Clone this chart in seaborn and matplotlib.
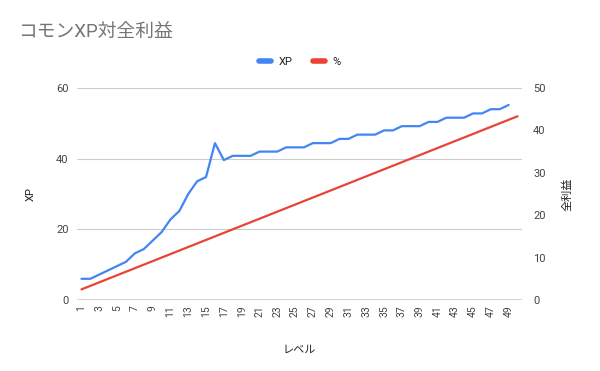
import numpy as np
import pandas as pd
import matplotlib
matplotlib.use("Agg")
import matplotlib.pyplot as plt
import seaborn as sns
from matplotlib.lines import Line2D

levels = list(range(1, 51))
xp = [6.0, 6.0, 7.2, 8.4, 9.6, 10.8, 13.2, 14.4, 16.8, 19.2,
      22.8, 25.2, 30.0, 33.6, 34.8, 44.4, 39.6, 40.8, 40.8, 40.8,
      42.0, 42.0, 42.0, 43.2, 43.2, 43.2, 44.4, 44.4, 44.4, 45.6,
      45.6, 46.8, 46.8, 46.8, 48.0, 48.0, 49.2, 49.2, 49.2, 50.4,
      50.4, 51.6, 51.6, 51.6, 52.8, 52.8, 54.0, 54.0, 55.2, np.nan]
pct = [2.500, 3.333, 4.167, 5.000, 5.833, 6.667, 7.500, 8.333, 9.167, 10.000,
       10.833, 11.667, 12.500, 13.333, 14.167, 15.000, 15.833, 16.667, 17.500, 18.333,
       19.167, 20.000, 20.833, 21.667, 22.500, 23.333, 24.167, 25.000, 25.833, 26.667,
       27.500, 28.333, 29.167, 30.000, 30.833, 31.667, 32.500, 33.333, 34.167, 35.000,
       35.833, 36.667, 37.500, 38.333, 39.167, 40.000, 40.833, 41.667, 42.500, 43.333]
xtick_labels = [str(v) for v in range(1, 50, 2)]

df = pd.DataFrame({"level": levels, "XP": xp, "pct": pct})

sns.set_theme(style="white")
plt.rcParams["font.family"] = ["Roboto", "Noto Sans CJK JP", "DejaVu Sans"]

BLUE = "#4285F4"
RED = "#EA4335"
TICK = "#444444"

fig = plt.figure(figsize=(6.0, 3.71), dpi=100)
ax = fig.add_axes([77/600, 1 - 300/371, (522 - 77)/600, (300 - 88)/371])
ax2 = ax.twinx()

sns.lineplot(data=df, x="level", y="XP", ax=ax, color=BLUE, linewidth=1.6)
sns.lineplot(data=df, x="level", y="pct", ax=ax2, color=RED, linewidth=1.6)

ax.set_xlim(0.5, 50.5)
ax.set_ylim(0, 60)
ax2.set_ylim(0, 50)
ax.set_yticks([0, 20, 40, 60])
ax2.set_yticks([0, 10, 20, 30, 40, 50])
ax.set_xticks(list(range(1, 50, 2)))
ax.set_xticklabels(xtick_labels, rotation=90, fontsize=7.5, color=TICK)
ax.tick_params(axis="y", labelsize=8, colors=TICK, length=0, pad=6)
ax2.tick_params(axis="y", labelsize=8, colors=TICK, length=0, pad=8)
ax.tick_params(axis="x", length=0, pad=4)

ax.grid(axis="y", color="#cccccc", linewidth=0.8)
ax.set_axisbelow(True)
for a in (ax, ax2):
    for s in ("top", "left", "right", "bottom"):
        a.spines[s].set_visible(False)
ax.axhline(0, color="#333333", linewidth=1.0, zorder=3)

ax.set_xlabel("レベル", fontsize=8, color="#222222", labelpad=20)
ax.set_ylabel("XP", fontsize=8, color="#222222", labelpad=15)
ax2.set_ylabel("全利益", fontsize=8, color="#222222", rotation=90, labelpad=12)

fig.text(18/600, 1 - 32/371, "コモンXP対全利益", fontsize=13.5, color="#757575",
         va="center", ha="left")

handles = [Line2D([0], [0], color=BLUE, linewidth=4),
           Line2D([0], [0], color=RED, linewidth=4)]
fig.legend(handles, ["XP", "%"], loc="center", bbox_to_anchor=(300/600, 1 - 62/371),
           ncol=2, frameon=False, fontsize=8, handlelength=1.1, handletextpad=0.7,
           columnspacing=1.8, labelcolor="#222222")

fig.savefig("out.png", dpi=100)
